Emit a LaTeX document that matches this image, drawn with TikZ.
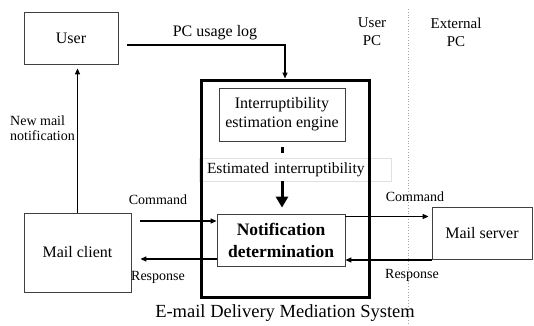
\documentclass[tikz,border=0pt]{standalone}
\usepackage{fontspec}
\setmainfont{Liberation Serif}
\usetikzlibrary{arrows.meta}

\tikzset{
  box/.style={draw=black!75, line width=0.8pt, align=center, inner sep=2pt,
    font=\fontsize{16}{19}\selectfont},
  lbl/.style={align=center, inner sep=1pt, font=\fontsize{14}{15}\selectfont},
  arr/.style={line width=1.4pt, -{Triangle[length=6pt,width=5pt]}}
}

\begin{document}
\begin{tikzpicture}[x=1pt,y=1pt]
\useasboundingbox (0,0) rectangle (534,325);

\node[box, minimum width=94, minimum height=52] (user) at (71,287) {User};
\node[box, minimum width=107, minimum height=79] (client) at (77.5,72.5) {Mail client};
\node[box, minimum width=100, minimum height=52] (server) at (482,92) {Mail server};
\node[box, minimum width=126, minimum height=53] (engine) at (282,210.5) {Interruptibility\\estimation engine};
\node[box, minimum width=128, minimum height=52, font=\fontsize{17.5}{22}\selectfont\bfseries] (notif) at (281,85) {Notification\\determination};

\node[lbl, font=\fontsize{15}{18}\selectfont] (userpc) at (372,293) {User\\PC};
\node[lbl, font=\fontsize{15}{18}\selectfont] (extpc) at (456,293) {External\\PC};
\coordinate (divtop) at (408,316);
\coordinate (divbot) at (408,0);
\draw[black!35, dotted, line width=0.8pt] (divtop) -- (divbot);

\draw[line width=3pt, dash pattern=on 6pt off 6pt, dash phase=6pt] (engine.south) -- (282,167);
\node[draw=black!12, fill=white, minimum height=23, text width=176, inner xsep=8, inner ysep=1,
  align=left, font=\fontsize{15.5}{18}\selectfont] (est) at (295,155.5) {Estimated interruptibility};
\draw[line width=3pt, shorten >=6pt, -{Triangle[length=11pt,width=12pt]}] (est.south -| engine.south) -- (notif.north -| engine.south);

\node[draw, line width=3pt, minimum width=168, minimum height=217] (system) at (285,136.5) {};
\node[font=\fontsize{18.5}{22}\selectfont] (caption) at (285,12) {E-mail Delivery Mediation System};

\draw[arr] ([xshift=9pt,yshift=-7pt]user.east) -| (system.north);
\node[lbl, font=\fontsize{16}{19}\selectfont] (log) at (215,292) {PC usage log};

\draw[arr, shorten >=4pt] (client.north) -- (client.north |- user.south);
\node[lbl, align=left, anchor=west] (newmail) at (9,197) {New mail\\notification};

\draw[arr] ([xshift=9pt,yshift=31.5pt]client.east) -- ([yshift=19pt]notif.west);
\node[lbl] (cmd1) at (158,125) {Command};
\draw[arr, shorten >=9pt] ([yshift=-19pt]notif.west) -- ([yshift=-6.5pt]client.east);
\node[lbl] (resp1) at (158,48) {Response};

\draw[arr, shorten >=3pt] ([yshift=23.5pt]notif.east) -- ([yshift=16.5pt]server.west);
\node[lbl] (cmd2) at (415,128) {Command};
\draw[arr] ([yshift=-27pt]server.west) -- ([yshift=-20pt]notif.east);
\node[lbl] (resp2) at (412,50) {Response};
\end{tikzpicture}
\end{document}
